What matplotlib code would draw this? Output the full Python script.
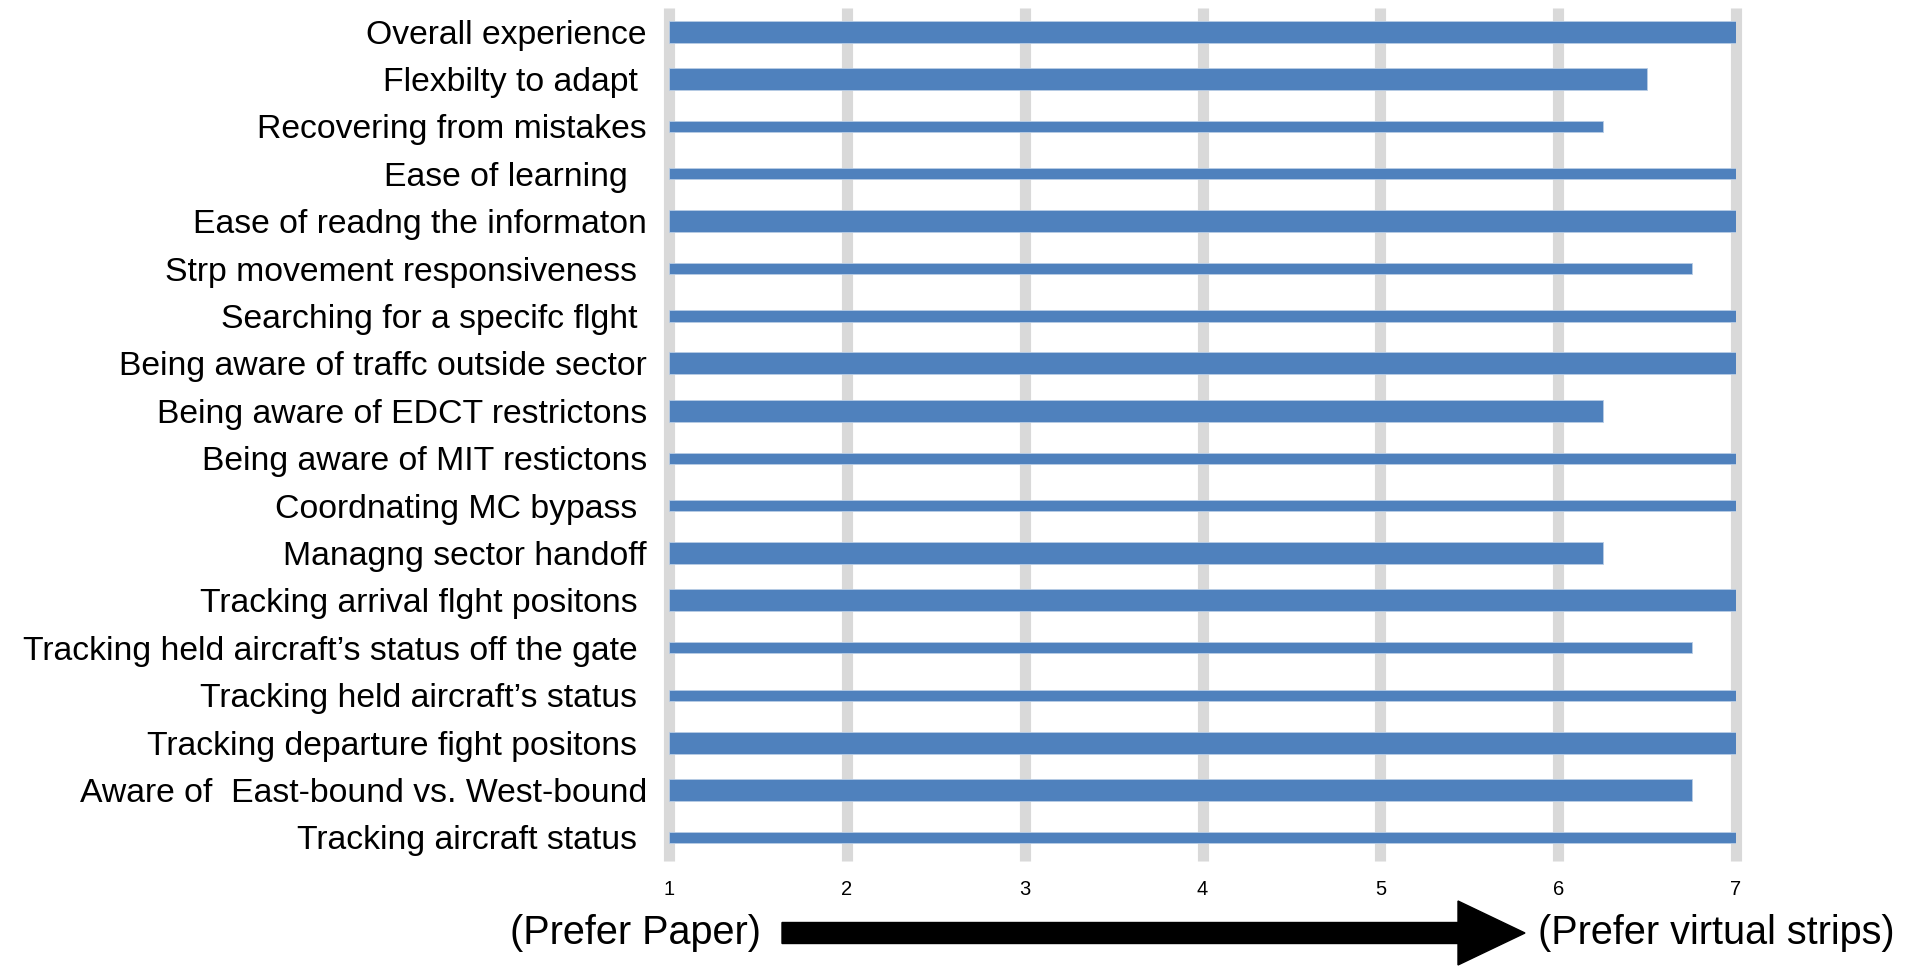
import matplotlib
matplotlib.use("Agg")
import matplotlib.pyplot as plt
from matplotlib.patches import FancyArrow

plt.rcParams['font.family'] = ['Liberation Sans', 'DejaVu Sans']

categories = [
    "Overall experience",
    "Flexbilty to adapt ",
    "Recovering from mistakes",
    "Ease of learning  ",
    "Ease of readng the informaton",
    "Strp movement responsiveness ",
    "Searching for a specifc flght ",
    "Being aware of traffc outside sector",
    "Being aware of EDCT restrictons",
    "Being aware of MIT restictons",
    "Coordnating MC bypass ",
    "Managng sector handoff",
    "Tracking arrival flght positons ",
    "Tracking held aircraft\u2019s status off the gate ",
    "Tracking held aircraft\u2019s status ",
    "Tracking departure fight positons ",
    "Aware of  East-bound vs. West-bound",
    "Tracking aircraft status ",
]
values = [7, 6.5, 6.25, 7, 7, 6.75, 7, 7, 6.25, 7, 7, 6.25, 7, 6.75, 7, 7, 6.75, 7]
thick = [1, 1, 0, 0, 1, 0, 0, 1, 1, 0, 0, 1, 1, 0, 0, 1, 1, 0]
xticks = [1, 2, 3, 4, 5, 6, 7]
left_label = "(Prefer Paper)"
right_label = "(Prefer virtual strips)"

W, H = 1921, 969
fig = plt.figure(figsize=(W / 100, H / 100), dpi=100)
x0, x1 = 669, 1736
ytop, ybot = 8, 861
ax = fig.add_axes([x0 / W, 1 - ybot / H, (x1 - x0) / W, (ybot - ytop) / H])

n = len(categories)
ypos = list(range(n))
heights = [0.465 if t else 0.235 for t in thick]
ax.barh(ypos, [v - 1 for v in values], left=1, height=heights,
        color='#4F81BD', edgecolor='#B9CDE5', linewidth=0.6, zorder=2)

ax.set_xlim(1, 7)
ax.set_ylim(n - 0.5, -0.5)
ax.vlines(xticks, -0.5, n - 0.5, colors='#D9D9D9', linewidth=8, zorder=0, clip_on=False)

ax.set_yticks(ypos)
ax.set_yticklabels(categories, fontsize=24.3)
ax.set_xticks(xticks)
ax.set_xticklabels([str(t) for t in xticks], fontsize=14.5)
ax.tick_params(axis='y', length=0, pad=16)
ax.tick_params(axis='x', length=0, pad=14)
for s in ax.spines.values():
    s.set_visible(False)

yc = 1 - 933 / H
fig.text(635 / W, yc, left_label, fontsize=28.5, ha='center', va='center')
fig.text(1716 / W, yc, right_label, fontsize=28.5, ha='center', va='center')
arrow = FancyArrow(7.82, (H - 933) / 100, 7.43, 0, width=0.21, head_width=0.64,
                   head_length=0.67, length_includes_head=True, color='black',
                   transform=fig.dpi_scale_trans)
fig.add_artist(arrow)

fig.savefig("out.png", dpi=100)
